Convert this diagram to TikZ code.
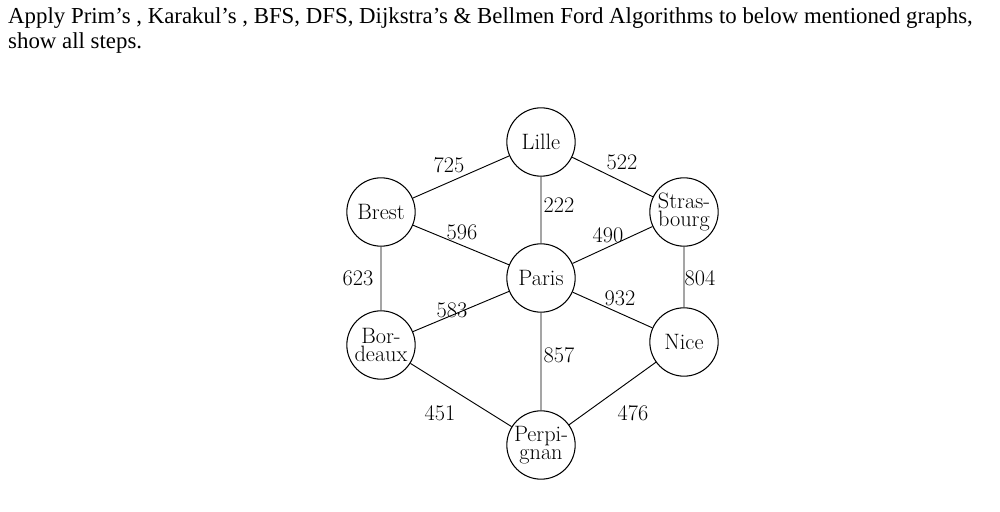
\documentclass[tikz,border=0pt]{standalone}
\usepackage{fontspec}
\newfontfamily\hdr{Liberation Serif}
\begin{document}
\begin{tikzpicture}[x=0.03cm,y=-0.03cm,
  city/.style={draw,circle,line width=0.9pt,minimum size=2.05cm,inner sep=0pt,align=center,font=\fontsize{19}{15}\selectfont},
  wt/.style={font=\fontsize{19}{18}\selectfont,inner sep=1pt},
  edge/.style={line width=0.8pt}]
\useasboundingbox (0,0) rectangle (1000,512);
\node[anchor=north west,align=left,inner sep=0pt,font=\hdr\fontsize{19.5}{22}\selectfont] (hd) at (8,7)
 {Apply Prim’s , Karakul’s , BFS, DFS, Dijkstra’s \& Bellmen Ford Algorithms to below mentioned graphs,\\show all steps.};
\node[city] (L) at (541,142) {Lille};
\node[city] (B) at (381,212) {Brest};
\node[city] (S) at (684,212) {Stras-\\bourg};
\node[city] (P) at (541,278) {Paris};
\node[city] (D) at (381,345) {Bor-\\deaux};
\node[city] (N) at (684,342) {Nice};
\node[city] (G) at (541,445) {Perpi-\\gnan};
\draw[edge] (L)--(B) (L)--(S) (L)--(P) (B)--(P) (S)--(P) (B)--(D) (S)--(N) (P)--(D) (P)--(N) (P)--(G) (D)--(G) (N)--(G);
\node[wt] (w1) at (449,165) {725};
\node[wt] (w2) at (622,162) {522};
\node[wt] (w3) at (559,205) {222};
\node[wt] (w4) at (462,232) {596};
\node[wt] (w5) at (608,235) {490};
\node[wt] (w6) at (358,278) {623};
\node[wt] (w7) at (700,278) {804};
\node[wt] (w8) at (452,310) {583};
\node[wt] (w9) at (620,298) {932};
\node[wt] (w10) at (559,355) {857};
\node[wt] (w11) at (440,413) {451};
\node[wt] (w12) at (633,413) {476};
\end{tikzpicture}
\end{document}
